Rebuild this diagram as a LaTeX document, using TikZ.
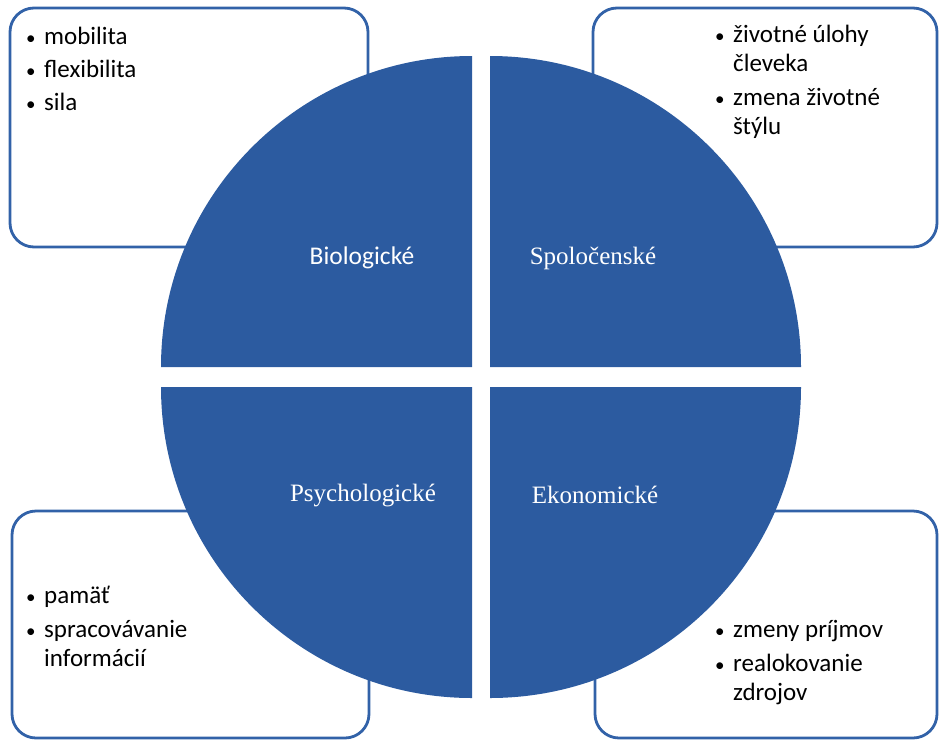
\documentclass[tikz,border=0pt]{standalone}
\usepackage{fontspec}
\setmainfont{Carlito}
\newfontfamily\labelserif{Liberation Serif}

\definecolor{quadblue}{RGB}{44,91,160}
\definecolor{boxblue}{RGB}{50,98,168}

\newcommand{\bul}{\makebox[19pt][l]{\hspace*{1pt}{\fontsize{19}{19}\selectfont\textbullet}}}
\newcommand{\ind}{\hspace*{19pt}}

\begin{document}
\begin{tikzpicture}[x=1pt,y=-1pt]

\tikzstyle{frame} = [rectangle, draw=boxblue, line width=2.8pt, rounded corners=24pt, fill=white]
\tikzstyle{items} = [align=left, inner sep=0pt, anchor=north west, font=\fontsize{25}{29}\selectfont]
\tikzstyle{quad} = [fill=quadblue]
\tikzstyle{qlabel} = [text=white, inner sep=0pt, font=\fontsize{25.5}{30}\selectfont]
\tikzstyle{slabel} = [qlabel, font=\labelserif\fontsize{25}{30}\selectfont]

\useasboundingbox (0,0) rectangle (939,742);

% frames behind the circle
\node (F1) [frame, minimum width=358pt, minimum height=239pt] at (189,127.5) {};
\node (F2) [frame, minimum width=344pt, minimum height=239pt] at (765,127.5) {};
\node (F3) [frame, minimum width=357pt, minimum height=227pt] at (190.5,624.5) {};
\node (F4) [frame, minimum width=342pt, minimum height=227pt] at (766,624.5) {};

% the four quarters
\fill [quad] (472,367) -- (161,367) arc[start angle=180, end angle=90, radius=311pt] -- cycle;
\fill [quad] (490,367) -- (801,367) arc[start angle=0, end angle=90, radius=311pt] -- cycle;
\fill [quad] (472,387) -- (161,387) arc[start angle=180, end angle=270, radius=311pt] -- cycle;
\fill [quad] (490,387) -- (801,387) arc[start angle=0, end angle=-90, radius=311pt] -- cycle;

\node (Q1) [qlabel] at (362,258) {Biologické};
\node (Q2) [slabel] at (593,258) {Spoločenské};
\node (Q3) [slabel] at (363,495) {Psychologické};
\node (Q4) [slabel] at (595,495) {Ekonomické};

% lists
\node (L1) [items] at (25,27) {\bul mobilita\\[4pt] \bul flexibilita\\[4pt] \bul sila};
\node (L2) [items] at (714,25) {\bul životné úlohy\\ \ind čleveka\\[5pt] \bul zmena životné\\ \ind štýlu};
\node (L3) [items] at (25,586) {\bul pamäť\\[5pt] \bul spracovávanie\\ \ind informácií};
\node (L4) [items] at (714,620) {\bul zmeny príjmov\\[5pt] \bul realokovanie\\ \ind zdrojov};

\end{tikzpicture}
\end{document}
